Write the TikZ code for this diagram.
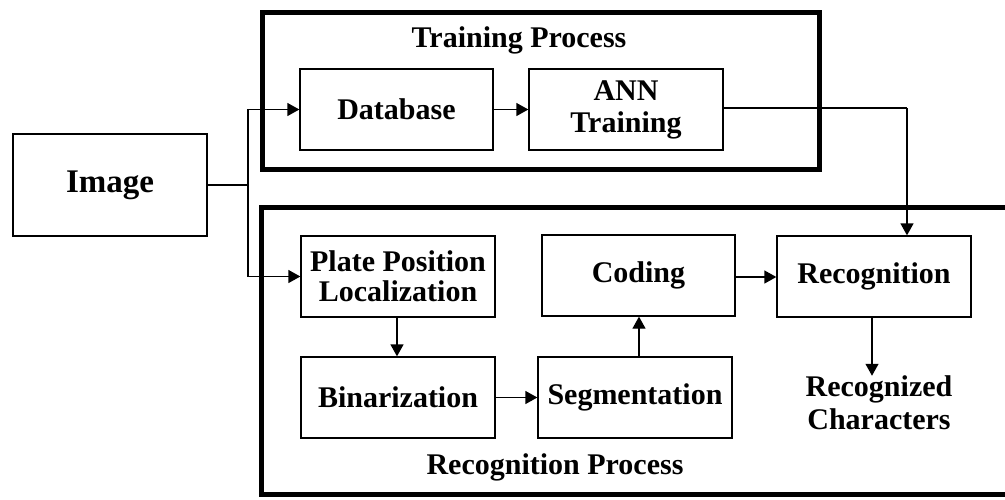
\documentclass[tikz,border=0pt]{standalone}
\usepackage{fontspec}
\setmainfont{Liberation Serif}
\usetikzlibrary{arrows.meta,calc}
\begin{document}
\begin{tikzpicture}[x=1pt,y=-1pt,
  stage/.style={draw,line width=1.3pt,minimum width=194pt,minimum height=81pt,
    inner sep=0pt,align=center,font=\fontsize{30}{30}\selectfont\bfseries},
  group/.style={draw,line width=5pt},
  caption/.style={font=\fontsize{30}{30}\selectfont\bfseries,align=center,inner sep=0pt},
  link/.style={line width=1.3pt,-{Triangle[length=12pt,width=13pt]}},
  wire/.style={line width=1.3pt}]
\useasboundingbox (0,0) rectangle (1005,499);

% process frames
\draw[group] (262,12.5) rectangle (819,169);
\draw[group] (261,207) rectangle (1015,494);
\node[caption] (trainlbl) at (519,40) {Training Process};
\node[caption] (recoglbl) at (555,467) {Recognition Process};

% stages
\node[stage,minimum width=194pt,minimum height=102pt,
      font=\fontsize{33}{33}\selectfont\bfseries] (image) at (110,185) {Image};
\node[stage,minimum width=193pt] (db) at (396.5,109.5) {Database};
\node[stage] (ann) at (626,109.5) {ANN\\[2pt]Training};
\node[stage] (plate) at (398,276.5) {Plate Position\\[0pt]Localization};
\node[stage] (bin) at (398,397.5) {Binarization};
\node[stage] (seg) at (635,397.5) {Segmentation};
\node[stage,minimum width=193pt] (coding) at (638.5,275.5) {Coding};
\node[stage] (recog) at (874,276.5) {Recognition};
\node[caption] (chars) at (879,403) {Recognized\\[3pt]Characters};

% connectors
\coordinate (split) at (248,185);
\coordinate (drop) at (907,108);
\draw[wire] (image.east) -- (split);
\draw[link] (split) |- (db.west);
\draw[link] (split) |- (plate.west);
\draw[link] (db.east) -- (ann.west);
\draw[wire] (ann.east |- drop) -- (drop);
\draw[link] (drop) -- (drop |- recog.north);
\draw[link] (plate.south -| 397,0) -- (bin.north -| 397,0);
\draw[link] (bin.east) -- (seg.west);
\draw[link] (seg.north -| 639,0) -- (coding.south -| 639,0);
\draw[link] (coding.east |- 0,277) -- (recog.west |- 0,277);
\draw[link] (recog.south -| 872,0) -- (chars.north -| 872,0);
\end{tikzpicture}
\end{document}
